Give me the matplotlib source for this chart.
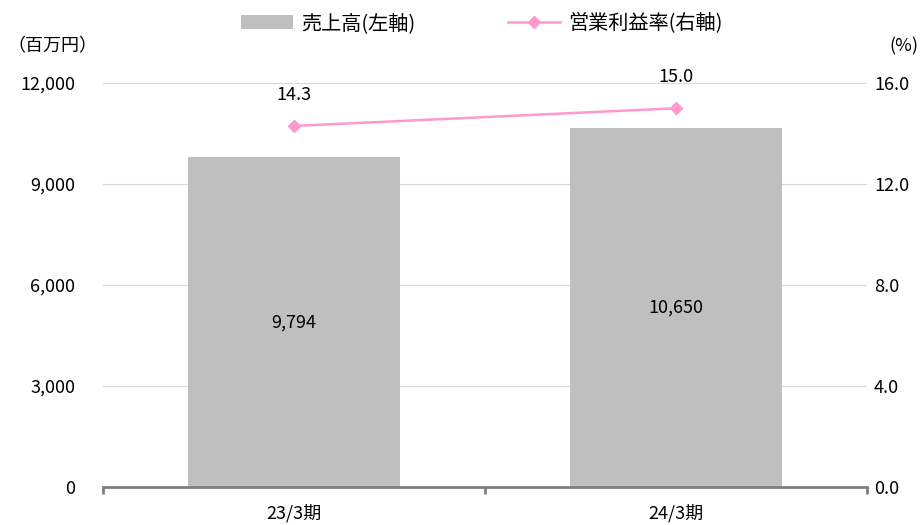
import matplotlib.pyplot as plt
from matplotlib.ticker import FuncFormatter

plt.rcParams['font.family'] = ['Noto Sans CJK JP', 'DejaVu Sans']

# データ
periods = ['23/3期', '24/3期']
sales = [9794, 10650]
margin = [14.3, 15.0]

fig = plt.figure(figsize=(9.23, 5.25), dpi=100)
ax = fig.add_axes([0.1116, 0.0724, 0.8277, 0.7695])
x = [0, 1]

bars = ax.bar(x, sales, width=0.555, color='#BFBFBF', zorder=2, label='売上高(左軸)')
ax.set_xlim(-0.5, 1.5)
ax.set_ylim(0, 12000)
ax.set_yticks([0, 3000, 6000, 9000, 12000])
ax.yaxis.set_major_formatter(FuncFormatter(lambda v, p: f'{int(v):,}'))
ax.grid(axis='y', color='#D9D9D9', linewidth=0.8, zorder=0)
ax.set_xticks(x)
ax.set_xticklabels(periods, fontsize=13)
ax.set_xticks([-0.5, 0.5, 1.5], minor=True)
ax.tick_params(axis='x', which='major', length=0, pad=12)
ax.tick_params(axis='x', which='minor', length=5, width=2, color='#7F7F7F', direction='out')
ax.tick_params(axis='y', length=0, labelsize=13, pad=20)
for s in ['top', 'right', 'left']:
    ax.spines[s].set_visible(False)
ax.spines['bottom'].set_color('#7F7F7F')
ax.spines['bottom'].set_linewidth(2)
ax.spines['bottom'].set_zorder(3)

for xi, v in zip(x, sales):
    ax.text(xi, v / 2, f'{v:,}', ha='center', va='center', fontsize=13)

ax2 = ax.twinx()
ax2.set_ylim(0, 16)
ax2.set_yticks([0, 4, 8, 12, 16])
ax2.yaxis.set_major_formatter(FuncFormatter(lambda v, p: f'{v:.1f}'))
ax2.tick_params(axis='y', length=0, labelsize=13, pad=5)
for s in ['top', 'right', 'left', 'bottom']:
    ax2.spines[s].set_visible(False)
line, = ax2.plot(x, margin, color='#FF99CC', linewidth=1.8, marker='D', markersize=6,
                 zorder=4, label='営業利益率(右軸)')
for xi, v in zip(x, margin):
    ax2.annotate(f'{v:.1f}', (xi, v), xytext=(0, 16), textcoords='offset points',
                 ha='center', va='bottom', fontsize=13)

fig.text(0.008, 0.912, '（百万円）', fontsize=13, ha='left', va='center')
fig.text(0.995, 0.912, '(%)', fontsize=13, ha='right', va='center')

fig.legend(handles=[bars, line], loc='upper center', bbox_to_anchor=(0.522, 1.01), ncol=2,
           frameon=False, fontsize=14.5, handlelength=2.6, columnspacing=4.6, handletextpad=0.4)

fig.savefig('out.png', dpi=100)
